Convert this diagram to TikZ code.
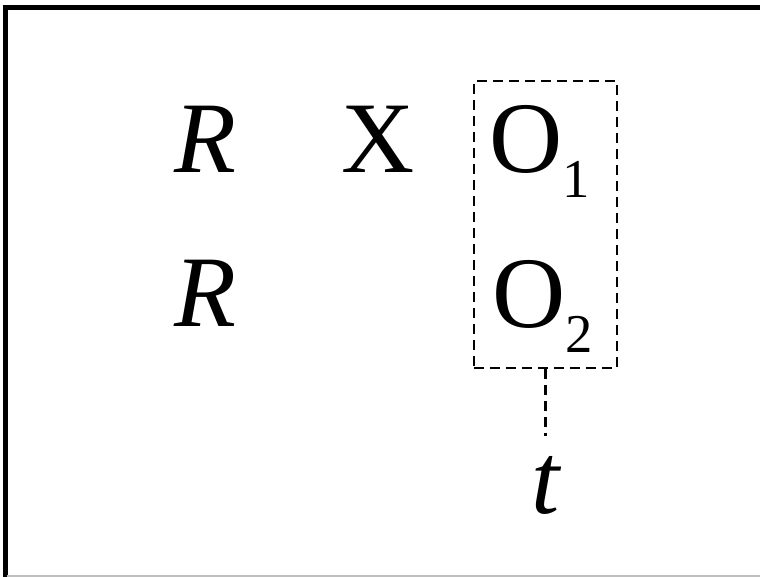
\documentclass[tikz,border=0pt]{standalone}
\usepackage{fontspec}
\setmainfont{Liberation Serif}

\newcommand{\idx}[1]{\raisebox{-18.75pt}{\fontsize{41}{41}\selectfont #1}}

\begin{document}
\begin{tikzpicture}[
  x=0.75pt, y=-0.75pt,
  sym/.style={inner sep=0pt, anchor=base west, font=\fontsize{76}{80}\selectfont},
  obsbox/.style={draw, dash pattern=on 7.5pt off 4.5pt, line width=2.2pt, minimum width=107.25pt, minimum height=215.25pt, inner sep=0pt},
  link/.style={dash pattern=on 7.5pt off 4.5pt, line width=2.2pt}
]
\useasboundingbox (0,0) rectangle (760,577);

% frame
\draw[line width=3.75pt] (5,577) |- (760,7.5);
\draw[black!25, line width=1.2pt] (7,576) -- (760,576);

% design rows
\node[sym] (r1) at (174,173) {\itshape R};
\node[sym] (x)  at (341,173) {X};
\node[sym] (o1) at (489,173) {O\idx{1}};

\node[sym] (r2) at (174,326) {\itshape R};
\node[sym] (o2) at (492,327) {O\idx{2}};

% observations measured at t
\node[obsbox] (obs) at (545.5,224.5) {};
\node[sym] (t) at (531,513) {\itshape t};

\draw[link, shorten >=15pt] (obs.south) -- (obs.south |- t.north);

\end{tikzpicture}
\end{document}
